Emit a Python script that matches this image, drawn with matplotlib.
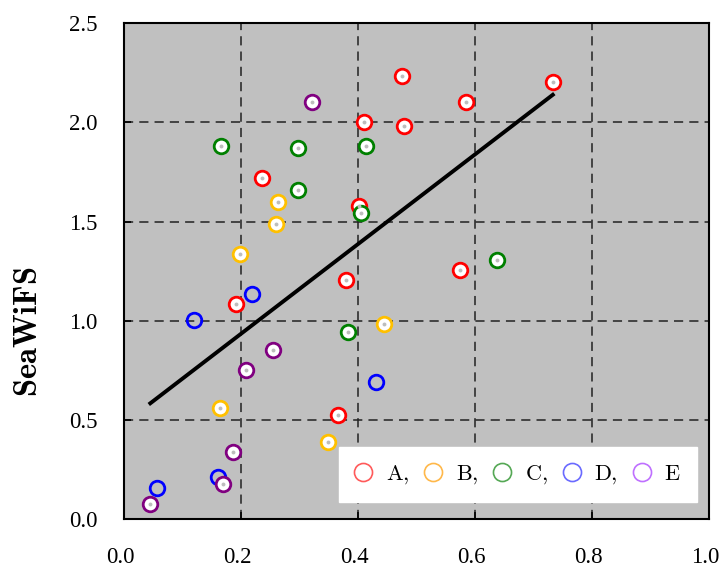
import matplotlib.pyplot as plt
from matplotlib.lines import Line2D
from matplotlib.transforms import ScaledTranslation

plt.rcParams['font.family'] = 'serif'
plt.rcParams['font.serif'] = ['Liberation Serif', 'DejaVu Serif']
plt.rcParams['mathtext.fontset'] = 'cm'

# group A (red)
a_x = [0.476, 0.585, 0.733, 0.411, 0.479, 0.401, 0.236, 0.380, 0.192, 0.575, 0.366]
a_y = [2.235, 2.104, 2.204, 2.003, 1.983, 1.580, 1.721, 1.208, 1.087, 1.258, 0.526]
# group B (yellow)
b_x = [0.164, 0.349, 0.264, 0.260, 0.199, 0.445]
b_y = [0.563, 0.392, 1.600, 1.489, 1.338, 0.986]
# group C (green)
c_x = [0.414, 0.405, 0.165, 0.298, 0.298, 0.383, 0.637]
c_y = [1.882, 1.542, 1.882, 1.872, 1.661, 0.946, 1.308]
# group D (blue)
d_x = [0.161, 0.056, 0.219, 0.120, 0.431]
d_y = [0.212, 0.160, 1.137, 1.005, 0.694]
# group E (purple)
e_x = [0.186, 0.169, 0.045, 0.322, 0.254, 0.209]
e_y = [0.341, 0.180, 0.080, 2.102, 0.855, 0.754]

# regression line
fit_slope = 2.258
fit_intercept = 0.4835

labels = [r'$\mathrm{A},$', r'$\mathrm{B},$', r'$\mathrm{C},$', r'$\mathrm{D},$', r'$\mathrm{E}$']
colors = ['red', '#ffc000', 'green', 'blue', 'purple']
legend_colors = ['#ff5a5a', '#ffb84a', '#55a855', '#6a6aff', '#bf70ff']
filled = [True, True, True, False, True]

fig = plt.figure(figsize=(7.2, 5.67), dpi=100)
ax = fig.add_axes([0.1722, 0.0838, 0.8125, 0.8756])
ax.set_facecolor('#c0c0c0')

groups = [(a_x, a_y), (b_x, b_y), (c_x, c_y), (d_x, d_y), (e_x, e_y)]
for (gx, gy), col, fill in zip(groups, colors, filled):
    ax.plot(gx, gy, 'o', ls='none', ms=10.5, mew=2.0, mec=col,
            mfc='white' if fill else 'none', zorder=3)
    if fill:
        ax.plot(gx, gy, 'o', ls='none', ms=2.8, mew=0, mfc='#bdbdbd', zorder=4)

all_x = a_x + b_x + c_x + d_x + e_x
x0, x1 = min(all_x), max(all_x)
ax.plot([x0, x1], [fit_intercept + fit_slope * x0, fit_intercept + fit_slope * x1],
        color='black', lw=2.8, zorder=5)

ax.set_xlim(0, 1)
ax.set_ylim(0, 2.5)
ax.set_xticks([0, 0.2, 0.4, 0.6, 0.8, 1.0])
ax.set_yticks([0, 0.5, 1.0, 1.5, 2.0, 2.5])
ax.grid(True, color='#222222', lw=1.1, ls=(0, (6, 4)))
ax.set_axisbelow(True)
ax.tick_params(direction='in', length=5, width=1.2, labelsize=16.5)
ax.tick_params(axis='x', pad=20)
ax.tick_params(axis='y', pad=19)
shift = ScaledTranslation(-4 / 100, 0, fig.dpi_scale_trans)
for lab in ax.get_xticklabels():
    lab.set_transform(lab.get_transform() + shift)
for s in ax.spines.values():
    s.set_linewidth(1.5)

ax.set_ylabel(r'$\mathbf{SeaWiFS}$', fontsize=23.5)
ax.yaxis.set_label_coords(-0.137, 0.378)

handles = [Line2D([], [], marker='o', ls='none', ms=13, mew=1.2, mec=c, mfc='none')
           for c in legend_colors]
leg = ax.legend(handles, labels, ncol=5, loc='lower right', bbox_to_anchor=(0.979, 0.035),
                fontsize=16, frameon=True, fancybox=False, framealpha=1,
                edgecolor='white', handletextpad=0.6, columnspacing=0.7,
                handlelength=0.8, borderpad=0.72, borderaxespad=0)
leg.set_zorder(10)

fig.savefig('out.png', dpi=100)
